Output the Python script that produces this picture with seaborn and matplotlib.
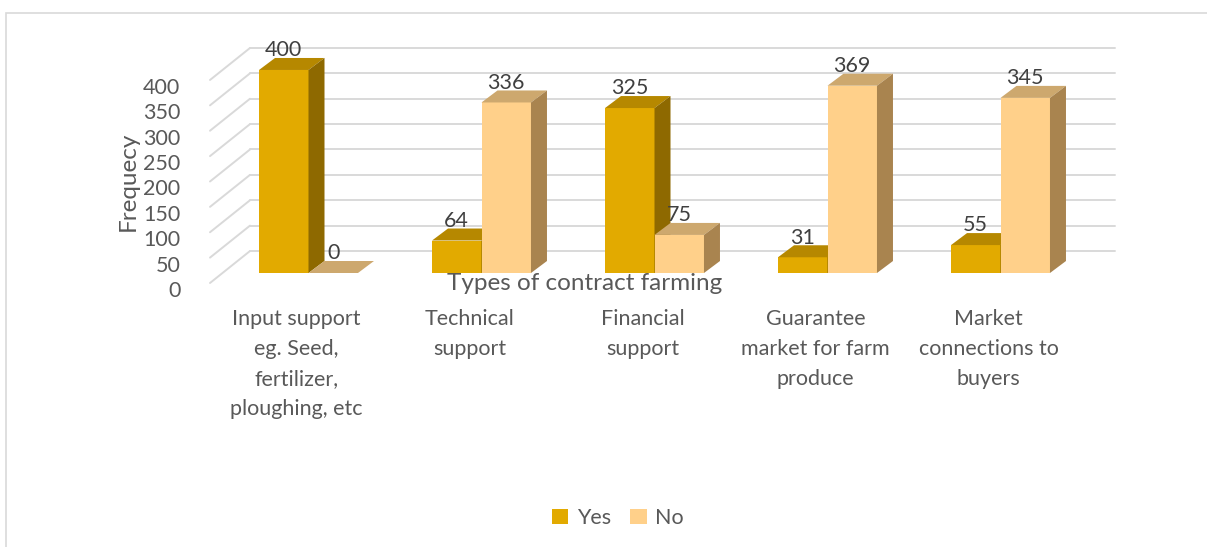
import matplotlib
matplotlib.use("Agg")
import matplotlib.pyplot as plt
from matplotlib.patches import Polygon, Rectangle, Patch
from matplotlib.transforms import ScaledTranslation
import seaborn as sns
import pandas as pd

# ---- data ----
categories = [
    "Input support\neg. Seed,\nfertilizer,\nploughing, etc",
    "Technical\nsupport",
    "Financial\nsupport",
    "Guarantee\nmarket for farm\nproduce",
    "Market\nconnections to\nbuyers",
]
yes_values = [400, 64, 325, 31, 55]
no_values = [0, 336, 75, 369, 345]
series_names = ["Yes", "No"]
yticks = [0, 50, 100, 150, 200, 250, 300, 350, 400]

df = pd.DataFrame({
    "category": categories * 2,
    "value": yes_values + no_values,
    "response": [series_names[0]] * len(categories) + [series_names[1]] * len(categories),
})

sns.set_theme(style="white")
plt.rcParams["font.family"] = ["Lato", "DejaVu Sans"]
TXT = "#595959"

W, H = 1207, 547
fig = plt.figure(figsize=(W / 100, H / 100), dpi=100)
fig.patch.set_facecolor("white")

# axes = front plane of the bars (pixels)
ax_l, ax_r, ax_b, ax_t = 222, 1087, 273, 44.6
ax = fig.add_axes([ax_l / W, (H - ax_b) / H, (ax_r - ax_l) / W, (ax_b - ax_t) / H])
ax.set_facecolor("none")
YMAX = 450
sx = (ax_r - ax_l) / 5.0
sy = (ax_b - ax_t) / YMAX

front_cols = {"Yes": "#E2AA00", "No": "#FFD08A"}
top_cols = {"Yes": "#B68800", "No": "#CDA86E"}
side_cols = {"Yes": "#8E6900", "No": "#A9844F"}

sns.barplot(data=df, x="category", y="value", hue="response", order=categories,
            hue_order=series_names, palette=front_cols, width=0.572, dodge=True,
            saturation=1, ax=ax, legend=False)

ax.set_xlim(-0.5, 4.5)
ax.set_ylim(0, YMAX)

# depth offsets (px -> data)
ddx, ddy = 16 / sx, 12 / sy          # bar depth
bwx, bwy = 28 / sx, 22 / sy          # back wall
fex, fey = -12 / sx, -10 / sy        # front floor edge

grid_col = "#D9D9D9"
for v in yticks:
    ax.plot([-0.5 + bwx, 4.5 + bwx], [v + bwy, v + bwy], color=grid_col, lw=1.4,
            zorder=0.5, clip_on=False)
    ax.plot([-0.5 + fex, -0.5 + bwx], [v + fey, v + bwy], color=grid_col, lw=1.4,
            zorder=0.5, clip_on=False)

# 3D faces for each bar
for k, (name, cont) in enumerate(zip(series_names, ax.containers)):
    for p in cont.patches:
        z = 2 + k
        p.set_zorder(z)
        p.set_edgecolor("none")
        x0, w, h = p.get_x(), p.get_width(), p.get_height()
        top = Polygon([(x0, h), (x0 + w, h), (x0 + w + ddx, h + ddy), (x0 + ddx, h + ddy)],
                      closed=True, facecolor=top_cols[name], edgecolor="none",
                      zorder=z, clip_on=False)
        side = Polygon([(x0 + w, 0), (x0 + w, h), (x0 + w + ddx, h + ddy), (x0 + w + ddx, ddy)],
                       closed=True, facecolor=side_cols[name], edgecolor="none",
                       zorder=z, clip_on=False)
        ax.add_patch(top)
        ax.add_patch(side)
    ax.bar_label(cont, labels=[str(int(round(p.get_height()))) for p in cont.patches],
                 padding=7, fontsize=15.5, color="#404040", zorder=10, clip_on=False)

for s in ax.spines.values():
    s.set_visible(False)

# y tick labels on the front edge
ax.set_yticks(yticks)
ax.set_yticklabels([str(v) for v in yticks])
ax.tick_params(axis="y", length=0, pad=30, labelsize=15.5, labelcolor=TXT)
for lab in ax.get_yticklabels():
    lab.set_transform(lab.get_transform() + ScaledTranslation(0, -16 / 100, fig.dpi_scale_trans))

# x tick labels
ax.set_xticks(range(len(categories)))
ax.set_xticklabels(categories, linespacing=1.62)
ax.tick_params(axis="x", length=0, pad=26, labelsize=15.5, labelcolor=TXT)
for lab in ax.get_xticklabels():
    lab.set_transform(lab.get_transform() + ScaledTranslation(-12 / 100, 0, fig.dpi_scale_trans))

ax.set_ylabel("Frequecy", fontsize=17.5, color=TXT)
ax.yaxis.set_label_coords((139 - ax_l) / (ax_r - ax_l), (ax_b - 181) / (ax_b - ax_t))
ax.set_xlabel("Types of contract farming", fontsize=17.5, color=TXT)
ax.xaxis.set_label_coords((585 - ax_l) / (ax_r - ax_l), (ax_b - 273) / (ax_b - ax_t))
ax.xaxis.set_zorder(20)

handles = [Patch(facecolor=front_cols[n], edgecolor="none", label=n) for n in series_names]
fig.legend(handles=handles, loc="center", bbox_to_anchor=(618 / W, 1 - 518 / H), ncol=2,
           frameon=False, fontsize=15.5, labelcolor=TXT, handlelength=0.75, handleheight=0.75,
           handletextpad=0.4, columnspacing=0.9)

# chart area border
fig.add_artist(Rectangle((6 / W, -0.02), 1.1, 1 - 13 / H + 0.02, transform=fig.transFigure,
                         facecolor="none", edgecolor="#D9D9D9", lw=1.2, clip_on=False))

fig.savefig("out.png", dpi=100)
